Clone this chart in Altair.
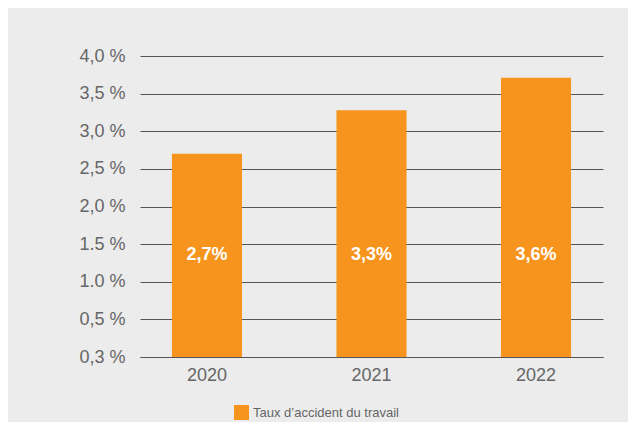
import altair as alt
import pandas as pd

years = ["2020", "2021", "2022"]
rates = [2.70, 3.28, 3.71]
rate_labels = ["2,7%", "3,3%", "3,6%"]
series_name = "Taux d\u2019accident du travail"
tick_values = [0, 0.5, 1.0, 1.5, 2.0, 2.5, 3.0, 3.5, 4.0]
tick_labels = ["0,3 %", "0,5 %", "1.0 %", "1.5 %", "2,0 %", "2,5 %", "3,0 %", "3,5 %", "4,0 %"]
label_level = 1.36

ORANGE = "#F7941D"
GRAY_TEXT = "#666666"
GRID = "#555555"
FONT = "Liberation Sans"

df = pd.DataFrame({"year": years, "rate": rates, "label": rate_labels, "series": [series_name] * 3})

label_expr = "[" + ",".join("'" + t + "'" for t in tick_labels) + "][round(datum.value*2)]"

x_axis = alt.Axis(title=None, labelAngle=0, labelFont=FONT, labelFontSize=18,
                  labelColor=GRAY_TEXT, labelPadding=9, ticks=False,
                  domain=True, domainColor=GRID, domainWidth=1, zindex=1)
x_scale = alt.Scale(paddingInner=0.574, paddingOuter=0.194)

y_axis = alt.Axis(title=None, values=tick_values, labelExpr=label_expr,
                  labelOverlap=False, tickCount=9,
                  labelFont=FONT, labelFontSize=18, labelColor=GRAY_TEXT,
                  labelPadding=15, ticks=False, domain=False,
                  grid=True, gridColor=GRID, gridWidth=1)
y_scale = alt.Scale(domain=[0, 4], nice=False, zero=True)

bars = alt.Chart(df).mark_bar(color=ORANGE).encode(
    x=alt.X("year:N", sort=years, scale=x_scale, axis=x_axis),
    y=alt.Y("rate:Q", scale=y_scale, axis=y_axis),
    color=alt.Color("series:N",
                    scale=alt.Scale(domain=[series_name], range=[ORANGE]),
                    legend=alt.Legend(title=None, orient="none", legendX=94, legendY=349,
                                      symbolType="square", symbolSize=225,
                                      symbolStrokeWidth=0, labelFont=FONT,
                                      labelFontSize=13, labelColor=GRAY_TEXT,
                                      labelOffset=4)),
)

texts = alt.Chart(df).mark_text(color="white", font=FONT, fontSize=18,
                                fontWeight="bold", baseline="middle").encode(
    x=alt.X("year:N", sort=years, scale=x_scale, axis=x_axis),
    y=alt.YDatum(label_level, type="quantitative", scale=y_scale, axis=y_axis),
    text="label:N",
)

chart = alt.layer(bars, texts).properties(
    width=463, height=301,
    autosize=alt.AutoSizeParams(type="none"),
    padding={"left": 132, "top": 48, "right": 25, "bottom": 65},
    background="#ececec",
).configure_view(stroke=None)

chart.save("out.html", embed_options={"renderer": "svg", "actions": False})
